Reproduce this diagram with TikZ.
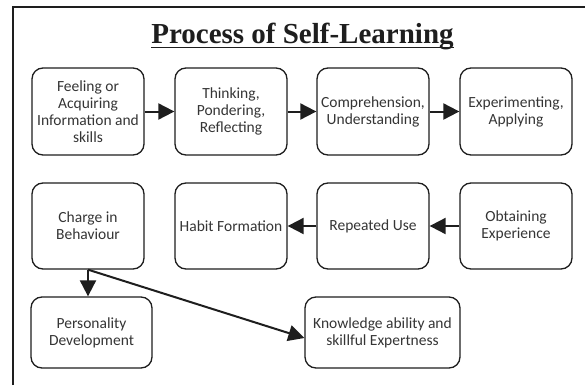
\documentclass[tikz,border=0pt]{standalone}
\usepackage{fontspec}
\setmainfont{Liberation Serif}
\newfontfamily\boxfont{Carlito}
\usetikzlibrary{arrows.meta}
\definecolor{ink}{HTML}{1E1E1E}
\begin{document}
\begin{tikzpicture}[x=1pt,y=-1pt,
  stepbox/.style={draw=ink,line width=1.3pt,rounded corners=11pt,inner sep=0pt,
    align=center,text=ink!90,font=\boxfont\fontsize{15.5}{17}\selectfont},
  wide/.style={stepbox,minimum width=112pt,minimum height=87pt},
  arr/.style={draw=ink,line width=2pt,-{Triangle[length=16pt,width=16pt]}}]
\useasboundingbox (0,0) rectangle (585,385);
\fill[white] (0,0) rectangle (585,385);
% frame
\draw[ink,line width=2pt] (13,385) -- (13,7) -- (585,7);
% title
\node[anchor=base,inner sep=0pt,text=ink,font=\fontsize{29}{32}\selectfont\bfseries] (title) at (302.5,44) {Process of Self-Learning};
\draw[ink,line width=1.8pt] ([yshift=-3.6pt]title.base west) -- ([yshift=-3.6pt]title.base east);
% row 1
\node[wide] (b1) at (88,111.5) {Feeling or\\Acquiring\\Information and\\skills};
\node[wide] (b2) at (231,111.5) {Thinking,\\Pondering,\\Reflecting};
\node[wide] (b3) at (373,111.5) {Comprehension,\\Understanding};
\node[wide] (b4) at (516,111.5) {Experimenting,\\Applying};
% row 2
\node[wide,minimum height=86pt] (c1) at (88,226) {Charge in\\Behaviour};
\node[wide,minimum height=86pt] (c2) at (231,226) {Habit Formation};
\node[wide,minimum height=86pt] (c3) at (373,226) {Repeated Use};
\node[wide,minimum height=86pt] (c4) at (516,226) {Obtaining\\Experience};
% row 3
\node[stepbox,minimum width=121pt,minimum height=71pt] (p) at (91.5,332.5) {Personality\\Development};
\node[stepbox,minimum width=155pt,minimum height=71pt] (k) at (382.5,332.5) {Knowledge ability and\\skillful Expertness};
% arrows
\draw[arr] (b1) -- (b2);
\draw[arr] (b2) -- (b3);
\draw[arr] (b3) -- (b4);
\draw[arr] (c4) -- (c3);
\draw[arr] (c3) -- (c2);
\draw[arr] (c1.south) -- (c1.south |- p.north);
\draw[arr] (c1.south) -- ([yshift=-5.5pt]k.west);
\end{tikzpicture}
\end{document}
